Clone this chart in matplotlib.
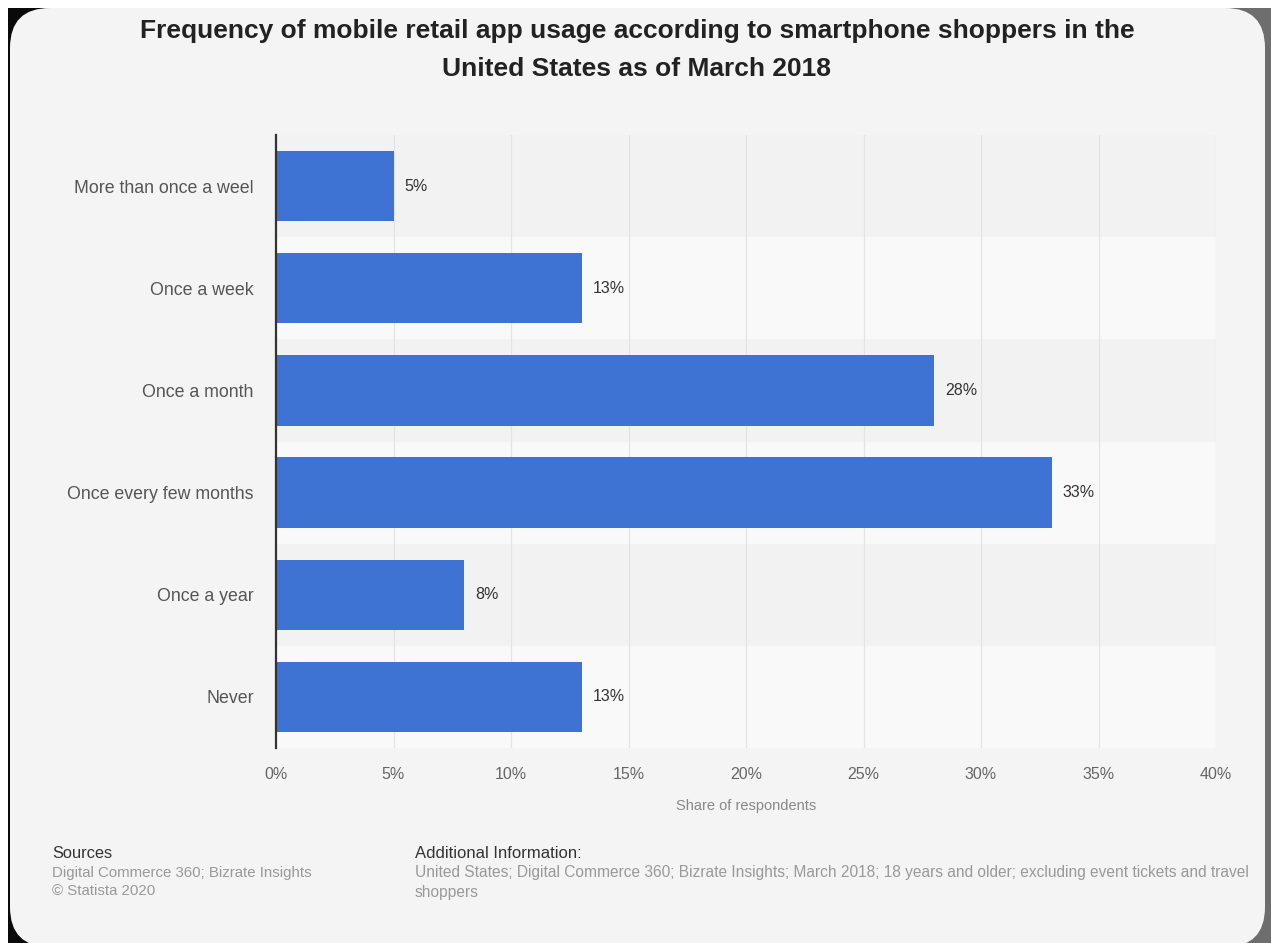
import matplotlib
matplotlib.use("Agg")
import matplotlib.pyplot as plt
from matplotlib.patches import FancyBboxPatch, Rectangle
from matplotlib.ticker import FuncFormatter

categories = ["More than once a weel", "Once a week", "Once a month",
              "Once every few months", "Once a year", "Never"]
values = [5, 13, 28, 33, 8, 13]
xticks = [0, 5, 10, 15, 20, 25, 30, 35, 40]

title = ("Frequency of mobile retail app usage according to smartphone shoppers in the\n"
         "United States as of March 2018")

W, H = 1271, 943
DPI = 100
plt.rcParams['font.family'] = ['Liberation Sans', 'DejaVu Sans']

fig = plt.figure(figsize=(W / DPI, H / DPI), dpi=DPI, facecolor='white')

# dark frame corners behind the card
fig.patches.append(Rectangle((8 / W, 0), (640 - 8) / W, (H - 8) / H, transform=fig.transFigure,
                             facecolor='#0a0a0a', edgecolor='none', zorder=-10))
fig.patches.append(Rectangle((640 / W, 0), (W - 640) / W, (H - 8) / H, transform=fig.transFigure,
                             facecolor='#6e6e6e', edgecolor='none', zorder=-10))
card = FancyBboxPatch((10, -4), 1255, H - 8 + 4, boxstyle="round,pad=0,rounding_size=40",
                      transform=None, facecolor='#f4f4f4', edgecolor='none', zorder=-5)
fig.patches.append(card)

ax = fig.add_axes([276 / W, 1 - 748 / H, (1216 - 276) / W, (748 - 135) / H])
ax.set_facecolor('none')

n = len(categories)
ypos = list(range(n))
for i in ypos:
    col = '#f9f9f9' if i % 2 == 1 else '#f2f2f2'
    ax.axhspan(i - 0.5, i + 0.5, xmin=0, xmax=1, facecolor=col, edgecolor='none', zorder=0)

for x in xticks[1:]:
    ax.axvline(x, color='#e4e4e4', lw=0.9, zorder=1)

bars = ax.barh(ypos, values, height=0.69, color='#3f73d3', zorder=3)
for y, v in zip(ypos, values):
    ax.annotate(f"{v}%", xy=(v, y), xytext=(8, 0), textcoords='offset points',
                ha='left', va='center', fontsize=11.5, color='#333333')

ax.set_xlim(0, 40)
ax.set_ylim(n - 0.5, -0.5)
ax.set_yticks(ypos)
ax.set_yticklabels(categories)
ax.set_xticks(xticks)
ax.xaxis.set_major_formatter(FuncFormatter(lambda v, p: f"{int(v)}%"))
ax.tick_params(axis='x', length=0, pad=14, labelsize=11.5, labelcolor='#666666')
ax.tick_params(axis='y', length=0, pad=16, labelsize=12.8, labelcolor='#555555')
for s in ['top', 'right', 'bottom']:
    ax.spines[s].set_visible(False)
ax.spines['left'].set_color('#333333')
ax.spines['left'].set_linewidth(1.6)
ax.spines['left'].set_zorder(5)
ax.set_xlabel("Share of respondents", fontsize=10.5, color='#888888', labelpad=12)

fig.text(637 / W, 1 - 50 / H, title, ha='center', va='center', fontsize=19,
         fontweight='bold', color='#222222', linespacing=1.75)

fig.text(52 / W, 1 - 853 / H, "Sources", ha='left', va='center', fontsize=11.8, color='#333333')
fig.text(52 / W, 1 - 873 / H, "Digital Commerce 360; Bizrate Insights", ha='left', va='center',
         fontsize=10.8, color='#999999')
fig.text(52 / W, 1 - 891 / H, "\u00a9 Statista 2020", ha='left', va='center',
         fontsize=10.8, color='#999999')
fig.text(415 / W, 1 - 853 / H, "Additional Information:", ha='left', va='center',
         fontsize=12, color='#333333')
fig.text(415 / W, 1 - 873 / H,
         "United States; Digital Commerce 360; Bizrate Insights; March 2018; 18 years and older; "
         "excluding event tickets and travel", ha='left', va='center',
         fontsize=11.2, color='#999999')
fig.text(415 / W, 1 - 893 / H, "shoppers", ha='left', va='center', fontsize=11.2, color='#999999')

fig.savefig("out.png", dpi=DPI, facecolor=fig.get_facecolor())
